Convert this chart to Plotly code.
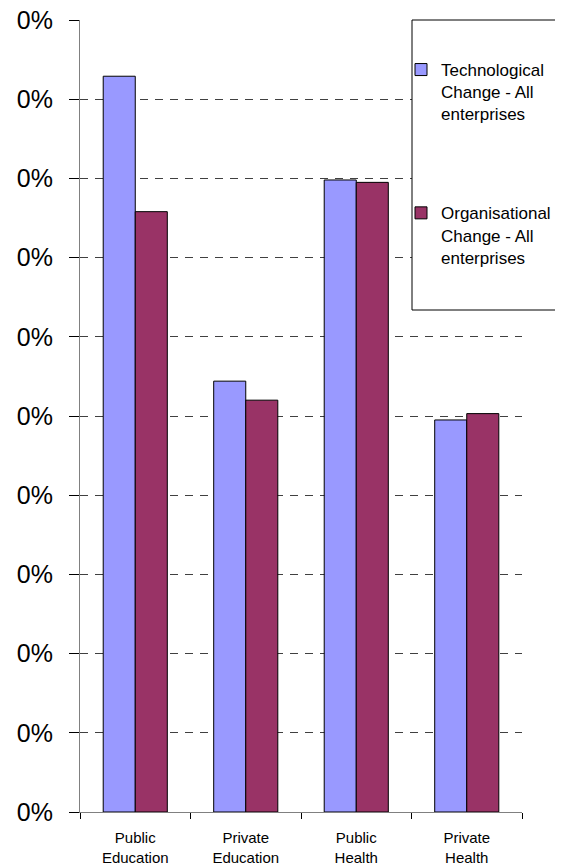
import plotly.graph_objects as go

categories = ["Public<br>Education", "Private<br>Education", "Public<br>Health", "Private<br>Health"]
tech_values = [92.9, 54.4, 79.8, 49.5]
org_values = [75.8, 52.0, 79.5, 50.3]
tick_values = [0, 10, 20, 30, 40, 50, 60, 70, 80, 90, 100]
tick_labels = ["0%"] * 11
series_names = ["Technological<br>Change - All<br>enterprises",
                "Organisational<br>Change - All<br>enterprises"]

FONT = "Liberation Sans, Arial, sans-serif"

# page offset of 8px (body margin) compensated
W, H = 555, 860
L, R, T, B = 72, 41, 12, 56
PW = W - L - R
PH = H - T - B

def px_x(x):
    return (x - 8 - L) / PW

def px_y(y):
    return 1 - (y - 8 - T) / PH

fig = go.Figure()
fig.add_trace(go.Bar(x=categories, y=tech_values, name=series_names[0],
                     marker=dict(color="#9999FF", line=dict(color="#000000", width=1)),
                     legendgroup="a"))
fig.add_trace(go.Bar(x=categories, y=org_values, name=series_names[1],
                     marker=dict(color="#993366", line=dict(color="#000000", width=1)),
                     legendgroup="b"))

fig.update_layout(
    width=W, height=H,
    margin=dict(l=L, r=R, t=T, b=B, autoexpand=False),
    paper_bgcolor="white", plot_bgcolor="white",
    barmode="group", bargap=0.42, bargroupgap=0,
    font=dict(family=FONT, color="#000000"),
    showlegend=True,
    legend=dict(x=px_x(401), xanchor="left", y=px_y(52), yanchor="top",
                bgcolor="rgba(0,0,0,0)", borderwidth=0,
                font=dict(size=17, family=FONT), valign="top",
                tracegroupgap=74, traceorder="grouped"),
    shapes=[dict(type="rect", xref="paper", yref="paper",
                 x0=px_x(412), x1=px_x(620),
                 y0=px_y(310), y1=px_y(20),
                 line=dict(color="#000000", width=1), fillcolor="white", layer="above")],
)

fig.update_xaxes(
    showline=True, linecolor="#808080", linewidth=1,
    ticks="outside", ticklen=6, tickcolor="#000000", tickson="boundaries",
    tickfont=dict(size=15, family=FONT), showgrid=False, ticklabelstandoff=12,
    ticklabeloverflow="allow",
)
fig.update_yaxes(
    range=[0, 100], tickvals=tick_values, ticktext=tick_labels,
    showline=True, linecolor="#808080", linewidth=1,
    ticks="outside", ticklen=10, tickcolor="#000000",
    tickfont=dict(size=25, family=FONT),
    showgrid=True, gridcolor="#404040", gridwidth=1, griddash="8px,7px",
    zeroline=False, ticklabelstandoff=11, ticklabeloverflow="allow",
)

fig.write_html("out.html")
